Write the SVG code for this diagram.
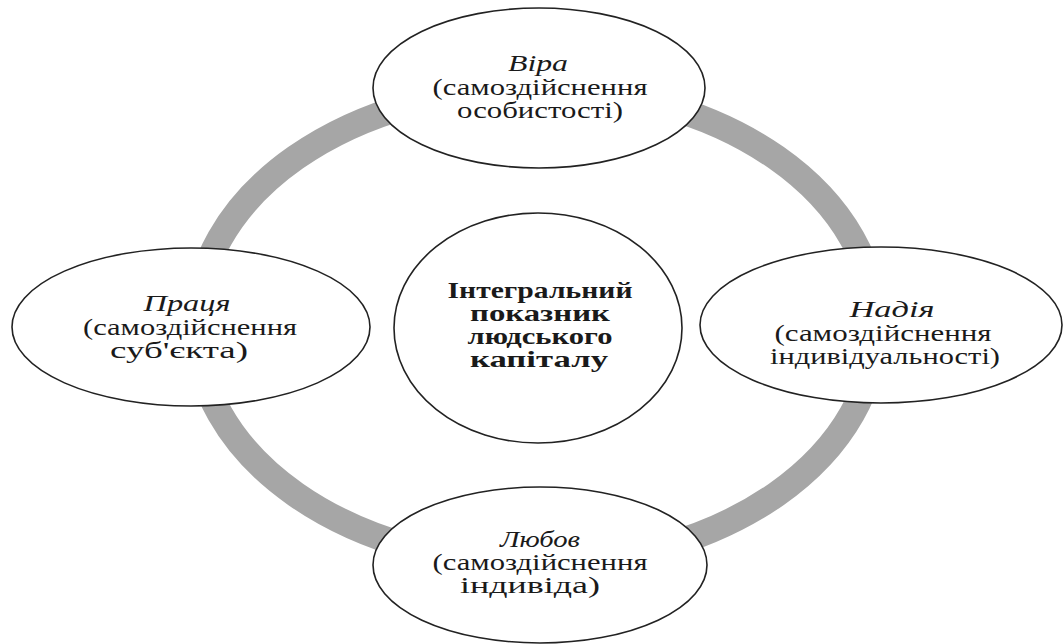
<svg xmlns="http://www.w3.org/2000/svg" width="1064" height="644" viewBox="0 0 1064 644">
<style>
.node{fill:#fff;stroke:#222;stroke-width:1.6}
.t{font-family:"Liberation Serif","Tinos","DejaVu Serif","Noto Serif",serif;font-size:23px;fill:#1a1a1a;text-anchor:middle}
.i{font-style:italic}
.b{font-weight:bold}
.ring{fill:none;stroke:#a6a6a6;stroke-width:26}
</style>
<rect width="1064" height="644" fill="#fff"/>
<g id="connectors">
<ellipse class="ring" cx="536" cy="326" rx="340" ry="238"/>
</g>
<g id="node-vira">
<ellipse class="node" cx="539" cy="88" rx="166" ry="80"/>
<text class="t i" x="538" y="71" textLength="60" lengthAdjust="spacingAndGlyphs">Віра</text>
<text class="t" x="540" y="95" textLength="215" lengthAdjust="spacingAndGlyphs">(самоздійснення</text>
<text class="t" x="540" y="118" textLength="166" lengthAdjust="spacingAndGlyphs">особистості)</text>
</g>
<g id="node-pratsia">
<ellipse class="node" cx="191" cy="327" rx="179" ry="79"/>
<text class="t i" x="187" y="311" textLength="87" lengthAdjust="spacingAndGlyphs">Праця</text>
<text class="t" x="190" y="335" textLength="214" lengthAdjust="spacingAndGlyphs">(самоздійснення</text>
<text class="t" x="179" y="358" textLength="138" lengthAdjust="spacingAndGlyphs">суб'єкта)</text>
</g>
<g id="node-nadiia">
<ellipse class="node" cx="881" cy="325" rx="181" ry="78"/>
<text class="t i" x="892" y="317" textLength="85" lengthAdjust="spacingAndGlyphs">Надія</text>
<text class="t" x="883" y="341" textLength="217" lengthAdjust="spacingAndGlyphs">(самоздійснення</text>
<text class="t" x="885" y="364" textLength="230" lengthAdjust="spacingAndGlyphs">індивідуальності)</text>
</g>
<g id="node-liubov">
<ellipse class="node" cx="540" cy="565" rx="167" ry="78"/>
<text class="t i" x="540" y="547" textLength="80" lengthAdjust="spacingAndGlyphs">Любов</text>
<text class="t" x="540" y="570" textLength="215" lengthAdjust="spacingAndGlyphs">(самоздійснення</text>
<text class="t" x="530" y="593" textLength="140" lengthAdjust="spacingAndGlyphs">індивіда)</text>
</g>
<g id="node-center">
<ellipse class="node" cx="538" cy="328" rx="144" ry="115"/>
<text class="t b" x="540" y="298" textLength="185" lengthAdjust="spacingAndGlyphs">Інтегральний</text>
<text class="t b" x="540" y="321" textLength="140" lengthAdjust="spacingAndGlyphs">показник</text>
<text class="t b" x="540" y="344" textLength="145" lengthAdjust="spacingAndGlyphs">людського</text>
<text class="t b" x="539" y="367" textLength="138" lengthAdjust="spacingAndGlyphs">капіталу</text>
</g>
</svg>
